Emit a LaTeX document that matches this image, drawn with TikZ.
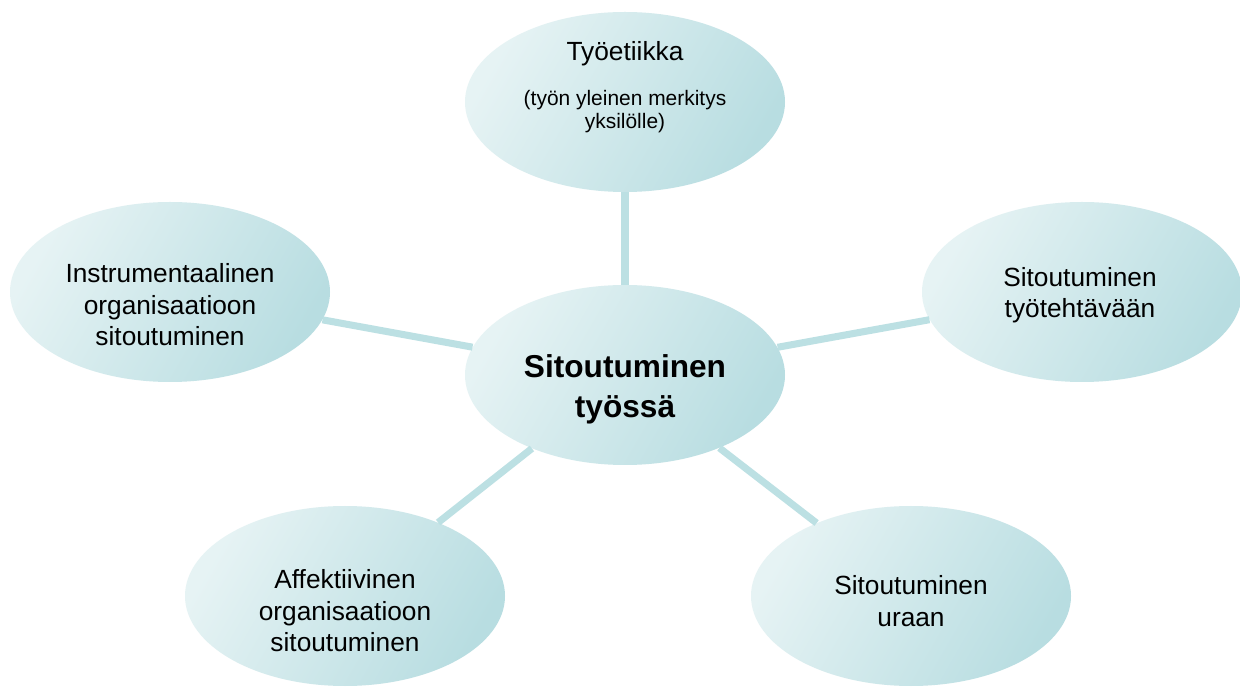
\documentclass[tikz,border=0pt]{standalone}
\usepackage{fontspec}
\setmainfont{Liberation Sans}
\usetikzlibrary{shapes.geometric}
\definecolor{Canvas}{HTML}{FFFFFF}
\definecolor{TealLight}{HTML}{E6F3F4}
\definecolor{TealDeep}{HTML}{B8DDE1}
\definecolor{Spoke}{HTML}{BCE0E3}
\definecolor{Text}{HTML}{000000}
\begin{document}
\begin{tikzpicture}[every node/.style={text=Text},
  bubble/.style={ellipse,minimum width=8cm,minimum height=4.5cm,inner sep=0pt,top color=TealLight,bottom color=TealDeep,shading angle=60},
  spoke/.style={draw=Spoke,line width=5pt},
  txt/.style={align=center,font=\fontsize{18.7}{22.4}\selectfont}]
\fill[Canvas] (0,0) rectangle (31,17.2);
\useasboundingbox (0,0) rectangle (31,17.2);
\node[bubble] (ethic) at (15.625,14.65){};
\node[bubble] (hub) at (15.625,7.825){};
\node[bubble] (instr) at (4.25,9.9){};
\node[bubble] (task) at (27.05,9.9){};
\node[bubble] (affect) at (8.625,2.3){};
\node[bubble] (career) at (22.775,2.3){};
\draw[spoke] (hub)--(ethic);\draw[spoke] (hub)--(instr);\draw[spoke] (hub)--(task);
\draw[spoke] (hub)--(affect);\draw[spoke] (hub)--(career);
\node[txt] (ethicT) at (15.625,15.85){Työetiikka};
\node[align=center,font=\fontsize{14.9}{16.3}\selectfont] (ethicS) at (15.625,14.41){(työn yleinen merkitys\\yksilölle)};
\node[align=center,font=\fontsize{22.5}{28.5}\selectfont\bfseries] (hubT) at (15.625,7.475){Sitoutuminen\\työssä};
\node[txt] (instrT) at (4.25,9.575){Instrumentaalinen\\organisaatioon\\sitoutuminen};
\node[txt] (taskT) at (27.0,9.825){Sitoutuminen\\työtehtävään};
\node[txt] (affectT) at (8.625,1.925){Affektiivinen\\organisaatioon\\sitoutuminen};
\node[txt] (careerT) at (22.775,2.175){Sitoutuminen\\uraan};
\end{tikzpicture}
\end{document}
